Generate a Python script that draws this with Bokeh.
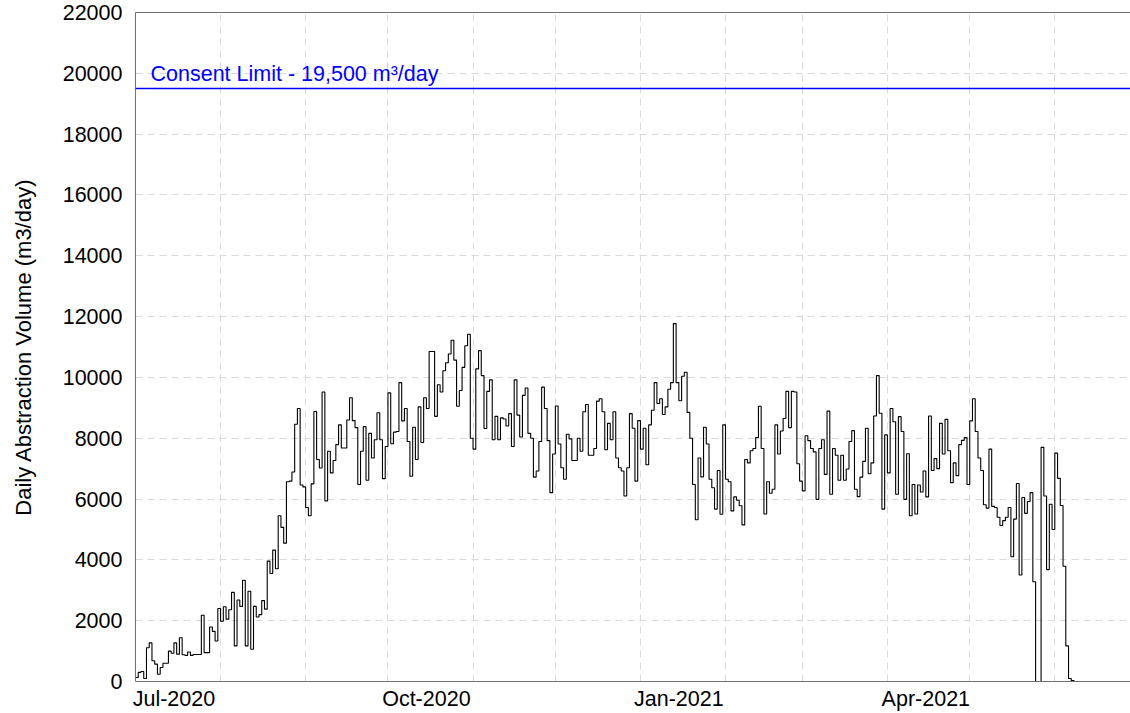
import pandas as pd
from bokeh.plotting import figure
from bokeh.models import (Range1d, FixedTicker, DatetimeTickFormatter, Label,
                          LinearAxis, Span, ColumnDataSource)
from bokeh.embed import file_html
from bokeh.resources import INLINE

# ---------------- data ----------------
start_date = "2020-07-01"
x_end = "2021-06-28 14:00"

daily_volume = [
    # Jul-Aug 2020
    130, 300, 330, 100, 1110, 1270, 680, 570, 240, 460,
    600, 600, 1000, 930, 1270, 900, 1440, 880, 860, 970,
    860, 890, 890, 890, 2180, 950, 950, 1790, 1650, 1330,
    2400, 1980, 2460, 2050, 2360, 2930, 1170, 2680, 2470, 3330,
    1170, 2970, 1060, 2470, 2120, 2200, 2660, 2380, 3960, 3550,
    4320, 3710, 5450, 5070, 4550, 6570,
    6590, 6890, 8460, 8980, 6460, 6400, 5720, 5450, 6500, 8880,
    7300, 7020, 9520, 5940, 7570, 6860, 7270, 7790, 8440, 7680,
    7680, 8600, 9330, 8580, 8350,
    6480, 7570, 8380, 6620, 8160, 7350, 7950, 8840, 7950, 6670,
    7730, 9490, 7820, 8200, 8220, 9830, 8570, 8980, 7890, 6750,
    8360, 7300, 9030, 7860, 9330, 8980,
    10850, 10850, 8720, 9760, 9520, 10220, 10480, 10770, 11220, 10570,
    9050, 9570, 10330, 11040, 11420, 8000, 7640, 10280, 10880, 10060,
    8320, 9540, 9920, 7950, 8720, 7950,
    8670, 8630, 8400, 8810, 7730, 9920, 8760, 8040, 9410, 9650,
    8160, 8000, 6720, 6920, 7890, 9680, 8980, 7920, 6210, 7480,
    9060, 7810, 7030, 6650, 8130, 7980, 7270, 7270, 8000, 7570,
    8870, 9110, 7440, 7440, 7660, 9220, 9300, 8870, 7620, 8490,
    7950, 8870, 7350, 7030, 6920, 6100, 7030, 8810, 8330, 6590,
    8580, 7640, 8330, 7130, 8440, 8920, 9830, 9140, 9300, 8780,
    9030, 9610, 9830, 11770, 9830, 9230, 10040, 10170, 8850, 8000,
    6480, 5320, 7350, 6730, 8360, 7810, 6650, 6370, 5670, 6940,
    5500,
    8440, 6650, 6570, 5610, 6070, 5960, 5780, 5150, 7300, 7190,
    7590, 7660, 8020, 9050, 7660, 5510, 6570, 6190, 6320, 8440,
    7480, 8240, 8650, 9540, 8350, 9540, 9520, 7160, 6590, 6270,
    8080, 7920, 7660, 7550, 5990, 7660, 7950, 6810, 8890, 6160,
    7660, 7440, 6620, 7440, 6620, 6990, 7890, 8250, 6320, 6080,
    6720, 7240, 8330, 6830, 7190, 8730, 10060,
    8820, 5670, 8110, 6860, 8980, 8540, 6160, 8710, 8220, 5990,
    7490, 5450, 6480, 5510, 6460, 6230, 6920, 6070, 8730, 6940,
    7330, 7000, 8490, 7480, 8620, 7590, 6540, 7190, 6770, 7790,
    7930, 8020, 6480, 8570, 9300, 8220, 7350,
    6940, 5810, 5700, 7640, 5760, 5720, 5400, 5130, 5290, 5400,
    5720, 4100, 5340, 6510, 3500, 6050, 5530, 5920, 6210, 3280,
    0, 0, 7700, 6100, 3680, 5830, 5000, 7510, 6680, 5790,
    3790, 1170, 100, 30,
    0, 0, 0, 0, 0, 0, 0, 0, 0, 0,
    0, 0, 0, 0, 0, 0, 0, 0, 0, 0,
    0, 0, 0,
]

consent_limit = 19500
consent_text = "Consent Limit - 19,500 m\u00b3/day"

x_tick_dates = ["2020-07-15", "2020-10-15", "2021-01-15", "2021-04-15"]
x_tick_labels = ["Jul-2020", "Oct-2020", "Jan-2021", "Apr-2021"]
grid_months = ["2020-08-01", "2020-09-01", "2020-10-01", "2020-11-01",
               "2020-12-01", "2021-01-01", "2021-02-01", "2021-03-01",
               "2021-04-01", "2021-05-01", "2021-06-01"]
y_ticks = [0, 2000, 4000, 6000, 8000, 10000, 12000, 14000, 16000,
           18000, 20000, 22000]
y_label = "Daily Abstraction Volume (m3/day)"


def ms(d):
    return pd.Timestamp(d).value // 10**6


dates = pd.date_range(start_date, periods=len(daily_volume), freq="D")
src = ColumnDataSource(dict(date=dates, vol=daily_volume))

FONT = "Liberation Sans"
AXIS_COL = "#707070"
GRID_COL = "#dadada"

p = figure(width=1130, height=713, x_axis_type="datetime",
           output_backend="svg", toolbar_location=None,
           x_range=Range1d(ms(start_date), ms(x_end)),
           y_range=Range1d(y_ticks[0], y_ticks[-1]),
           min_border_left=135, min_border_right=0,
           min_border_top=12, min_border_bottom=0)
p.outline_line_color = None
p.background_fill_color = "white"
p.border_fill_color = "white"

# grids
p.xgrid.ticker = FixedTicker(ticks=[ms(d) for d in grid_months])
p.ygrid.ticker = FixedTicker(ticks=y_ticks)
for g in (p.xgrid, p.ygrid):
    g.grid_line_color = GRID_COL
    g.grid_line_dash = "7 5"
    g.grid_line_width = 1

# x axis
xa = p.xaxis[0]
xa.ticker = FixedTicker(ticks=[ms(d) for d in x_tick_dates])
xa.formatter = DatetimeTickFormatter(days="%b-%Y", months="%b-%Y",
                                     years="%b-%Y", hours="%b-%Y")
xa.major_tick_line_color = None
xa.minor_tick_line_color = None
xa.major_tick_out = 0
xa.major_tick_in = 0
xa.major_label_standoff = 5
xa.axis_line_color = AXIS_COL
xa.major_label_text_font = FONT
xa.major_label_text_font_size = "21.5px"
xa.major_label_text_color = "black"

# y axis
ya = p.yaxis[0]
ya.ticker = FixedTicker(ticks=y_ticks)
ya.major_tick_line_color = None
ya.minor_tick_line_color = None
ya.major_tick_out = 0
ya.major_tick_in = 0
ya.major_label_standoff = 13
ya.axis_line_color = AXIS_COL
ya.major_label_text_font = FONT
ya.major_label_text_font_size = "21.5px"
ya.major_label_text_color = "black"
ya.axis_label = y_label
ya.axis_label_text_font = FONT
ya.axis_label_text_font_size = "22px"
ya.axis_label_text_font_style = "normal"
ya.axis_label_text_color = "black"
ya.axis_label_standoff = 24

# top border line
top = LinearAxis(ticker=FixedTicker(ticks=[]), major_label_text_font_size="0px",
                 major_tick_out=0, major_tick_in=0, major_label_standoff=0,
                 major_tick_line_color=None, minor_tick_line_color=None,
                 axis_line_color=AXIS_COL)
p.add_layout(top, "above")

# consent limit
p.add_layout(Span(location=consent_limit, dimension="width",
                  line_color="#0000ff", line_width=1.6))
p.add_layout(Label(x=ms(start_date), y=consent_limit, x_offset=15, y_offset=15,
                   text=consent_text, text_color="#0000ff", text_font=FONT,
                   text_font_size="21.5px", text_baseline="alphabetic"))

# data
p.step(x="date", y="vol", source=src, mode="after",
       line_color="black", line_width=1.1)

open("out.html", "w").write(file_html(p, INLINE))
